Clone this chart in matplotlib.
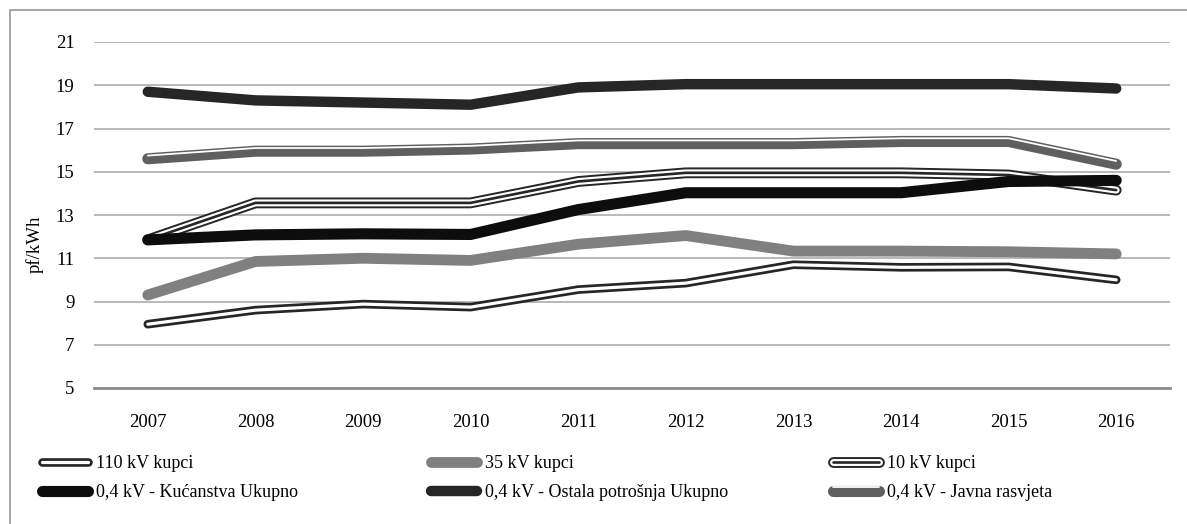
import numpy as np
import matplotlib.pyplot as plt
import matplotlib.patheffects as pe
from matplotlib.lines import Line2D

plt.rcParams['font.family'] = 'Liberation Serif'

# cijene po naponskoj razini (pf/kWh)
years = ['2007', '2008', '2009', '2010', '2011', '2012', '2013', '2014', '2015', '2016']
kv110 = [7.95, 8.6, 8.88, 8.74, 9.55, 9.85, 10.7, 10.58, 10.6, 10.0]
kv35 = [9.3, 10.85, 11.0, 10.9, 11.65, 12.05, 11.33, 11.33, 11.3, 11.2]
kv10 = [11.85, 13.56, 13.56, 13.56, 14.55, 14.95, 14.95, 14.95, 14.85, 14.15]
kucanstva = [11.85, 12.08, 12.13, 12.1, 13.25, 14.03, 14.03, 14.03, 14.55, 14.6]
ostala = [18.7, 18.3, 18.2, 18.1, 18.9, 19.05, 19.05, 19.05, 19.05, 18.85]
javna = [15.6, 15.95, 15.95, 16.05, 16.3, 16.3, 16.3, 16.4, 16.4, 15.35]

labels = ['110 kV kupci', '35 kV kupci', '10 kV kupci',
          '0,4 kV - Kućanstva Ukupno', '0,4 kV - Ostala potrošnja Ukupno',
          '0,4 kV - Javna rasvjeta']

fig = plt.figure(figsize=(11.87, 5.24), dpi=100)
ax = fig.add_axes([94 / 1187, 1 - 388 / 524, (1170 - 94) / 1187, (388 - 42) / 524])

x = np.arange(len(years))
line_kw = dict(solid_capstyle='round', solid_joinstyle='round')

# 110 kV - dvostruka linija (tamni rub, bijela sredina)
l1, = ax.plot(x, kv110, color='white', lw=2.3, label=labels[0],
              path_effects=[pe.Stroke(linewidth=6.2, foreground='#262626'), pe.Normal()], **line_kw)
# 35 kV
l2, = ax.plot(x, kv35, color='#808080', lw=7.8, label=labels[1], **line_kw)
# 10 kV - trostruka linija
l3, = ax.plot(x, kv10, color='#262626', lw=7.8, label=labels[2],
              path_effects=[pe.Normal(), pe.Stroke(linewidth=5.0, foreground='white'),
                            pe.Stroke(linewidth=1.9, foreground='#262626')], **line_kw)
# kucanstva
l4, = ax.plot(x, kucanstva, color='#0d0d0d', lw=8.0, label=labels[3], **line_kw)
# ostala potrosnja
l5, = ax.plot(x, ostala, color='#262626', lw=7.5, label=labels[4], **line_kw)
# javna rasvjeta - debela/tanka
l6, = ax.plot(x, javna, color='#5f5f5f', lw=8.0, label=labels[5],
              path_effects=[pe.Normal(), pe.Stroke(linewidth=1.3, foreground='white', offset=(0, 2.3))],
              **line_kw)

ax.set_xlim(-0.5, len(years) - 0.5)
ax.set_ylim(5, 21)
ax.set_yticks(range(5, 22, 2))
ax.set_xticks(x)
ax.set_xticklabels(years)
ax.tick_params(length=0, labelsize=13.5)
ax.tick_params(axis='y', pad=14)
ax.tick_params(axis='x', pad=19)
ax.yaxis.grid(True, color='#a6a6a6', lw=1.1)
ax.set_axisbelow(True)
for s in ['top', 'right', 'left']:
    ax.spines[s].set_visible(False)
ax.spines['bottom'].set_color('#8c8c8c')
ax.spines['bottom'].set_linewidth(2.0)
ax.set_ylabel('pf/kWh', fontsize=13.5)
ax.yaxis.set_label_coords(-50 / 1076, (388 - 244) / 346)

# legenda u tri stupca
handles = [l1, l2, l3, l4, l5, l6]
col_x = [42, 431, 833]
for i, cx in enumerate(col_x):
    fig.legend([handles[i], handles[i + 3]], [labels[i], labels[i + 3]],
               loc='center left', bbox_to_anchor=(cx / 1187, 1 - 478 / 524),
               frameon=False, fontsize=13, handlelength=2.55, handletextpad=0.45,
               labelspacing=0.65, borderpad=0, borderaxespad=0)

# okvir grafikona
fig.add_artist(Line2D([10 / 1187, 10 / 1187, 1], [0, 1 - 10 / 524, 1 - 10 / 524],
                      transform=fig.transFigure, color='#a6a6a6', lw=1.4))

fig.savefig('out.png', dpi=100)
